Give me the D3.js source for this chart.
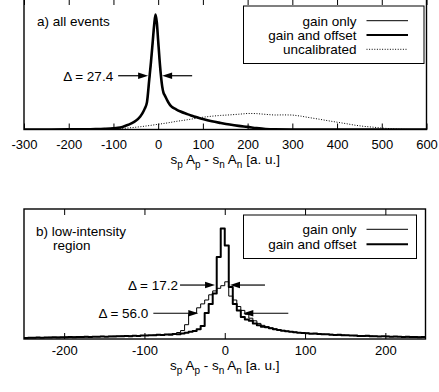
<!DOCTYPE html>
<html>
<head>
<meta charset="utf-8">
<script src="https://cdn.jsdelivr.net/npm/d3@7"></script>
<style>
  body { margin: 0; background: #fff; }
  svg { display: block; font-family: "Liberation Sans", Arial, sans-serif; }
</style>
</head>
<body>
<div id="chart"></div>
<script>
// ---- panel a) all events : sample positions and normalised counts
const aX = [-300, -250, -200, -160, -140, -120, -100, -90, -80, -70, -60, -50, -40, -35, -30, -25,
  -20, -16, -12, -9, -6, -3, 0, 3, 6, 9, 12, 15, 20, 25, 30, 40, 50, 60, 70, 80, 90, 100,
  120, 140, 160, 180, 200, 220, 240, 260, 300, 400, 500, 600];
const aGainOffset = [0, 0, 0.001, 0.002, 0.003, 0.005, 0.009, 0.013, 0.02, 0.032, 0.047, 0.067, 0.1, 0.125, 0.16, 0.21,
  0.38, 0.52, 0.68, 0.8, 0.88, 0.82, 0.68, 0.54, 0.42, 0.33, 0.28, 0.26, 0.225, 0.195, 0.175, 0.155, 0.138, 0.124, 0.112, 0.1, 0.09, 0.08,
  0.063, 0.05, 0.038, 0.028, 0.02, 0.011, 0.004, 0.001, 0, 0, 0, 0];
const aGainOnly = [0, 0, 0.001, 0.002, 0.003, 0.005, 0.009, 0.013, 0.02, 0.032, 0.047, 0.067, 0.1, 0.125, 0.16, 0.21,
  0.37, 0.51, 0.67, 0.79, 0.87, 0.81, 0.67, 0.53, 0.42, 0.33, 0.28, 0.26, 0.225, 0.195, 0.175, 0.155, 0.138, 0.124, 0.112, 0.1, 0.09, 0.08,
  0.063, 0.05, 0.038, 0.028, 0.02, 0.011, 0.004, 0.001, 0, 0, 0, 0];
const aUncalX = [-150, -120, -100, -80, -60, -40, -20, 0, 20, 40, 60, 80, 100, 120, 140, 160, 180, 200, 220, 240,
  260, 280, 300, 320, 340, 360, 380, 400, 420, 440, 460, 480, 500, 520, 540, 560];
const aUncal = [0, 0.002, 0.004, 0.008, 0.014, 0.021, 0.03, 0.04, 0.05, 0.062, 0.072, 0.083, 0.094, 0.102, 0.108, 0.112, 0.117, 0.123, 0.122, 0.116,
  0.111, 0.112, 0.111, 0.102, 0.09, 0.079, 0.067, 0.056, 0.045, 0.033, 0.024, 0.018, 0.011, 0.006, 0.002, 0];
const aTicks = [-300, -200, -100, 0, 100, 200, 300, 400, 500, 600];

// ---- panel b) low-intensity region : histogram, bins of 5 from -250
const bBinStart = -250;
const bBinWidth = 5;
const bGainOffset = [
  0.008, 0.010, 0.009, 0.011, 0.010, 0.012, 0.011, 0.013, 0.012, 0.014,
  0.013, 0.015, 0.014, 0.016, 0.015, 0.017, 0.016, 0.018, 0.017, 0.019,
  0.018, 0.020, 0.019, 0.022, 0.021, 0.023, 0.022, 0.025, 0.024, 0.027,
  0.026, 0.029, 0.028, 0.032, 0.030, 0.035, 0.033, 0.038, 0.036, 0.042,
  0.048, 0.055, 0.062, 0.075, 0.10, 0.20, 0.27, 0.35, 0.63, 0.85,
  0.72, 0.40, 0.27, 0.22, 0.17, 0.15, 0.14, 0.12, 0.105, 0.095,
  0.09, 0.082, 0.075, 0.07, 0.064, 0.06, 0.055, 0.052, 0.048, 0.046,
  0.044, 0.041, 0.043, 0.038, 0.036, 0.037, 0.033, 0.031, 0.032, 0.029,
  0.028, 0.026, 0.027, 0.024, 0.023, 0.025, 0.022, 0.021, 0.020, 0.022,
  0.019, 0.018, 0.020, 0.017, 0.016, 0.018, 0.015, 0.016, 0.014, 0.015];
const bGainOnly = [
  0.009, 0.011, 0.010, 0.012, 0.011, 0.012, 0.013, 0.012, 0.014, 0.013,
  0.015, 0.014, 0.016, 0.015, 0.017, 0.016, 0.018, 0.019, 0.018, 0.020,
  0.019, 0.021, 0.022, 0.021, 0.023, 0.024, 0.023, 0.026, 0.025, 0.027,
  0.028, 0.027, 0.030, 0.032, 0.031, 0.035, 0.038, 0.042, 0.050, 0.065,
  0.11, 0.19, 0.20, 0.24, 0.27, 0.30, 0.34, 0.37, 0.39, 0.41,
  0.44, 0.33, 0.30, 0.25, 0.22, 0.19, 0.16, 0.14, 0.12, 0.105,
  0.095, 0.085, 0.078, 0.07, 0.066, 0.06, 0.057, 0.053, 0.05, 0.047,
  0.045, 0.043, 0.040, 0.041, 0.037, 0.035, 0.036, 0.032, 0.030, 0.031,
  0.028, 0.027, 0.025, 0.026, 0.024, 0.022, 0.023, 0.021, 0.020, 0.019,
  0.021, 0.018, 0.017, 0.019, 0.016, 0.015, 0.017, 0.014, 0.015, 0.013];
const bTicks = [-200, -100, 0, 100, 200];

// ---- FWHM annotations: label, height, left tip, right tip (data units)
const aDeltas = [['\u0394 = 27.4', 0.412, -22.4, 8.9]];
const bDeltas = [['\u0394 = 17.2', 0.415, -12.1, 6.5], ['\u0394 = 56.0', 0.198, -32.9, 23.1]];

const legendA = ['gain only', 'gain and offset', 'uncalibrated'];
const legendB = ['gain only', 'gain and offset'];

const styles = {
  'gain only': { width: 1, dash: null },
  'gain and offset': { width: 2.6, dash: null },
  'uncalibrated': { width: 1, dash: '1,1.6' }
};

const fontSize = 13.5;

const svg = d3.select('#chart')
  .append('svg')
  .attr('width', 439)
  .attr('height', 392);

function buildPanel(p) {
  const x = d3.scaleLinear().domain(p.xDomain).range([p.left, p.right]);
  const y = d3.scaleLinear().domain([0, 1]).range([p.bottom, p.top]);
  const g = svg.append('g');

  const clipId = 'clip-' + p.id;
  g.append('clipPath').attr('id', clipId)
    .append('rect')
    .attr('x', p.left).attr('y', p.top)
    .attr('width', p.right - p.left).attr('height', p.bottom - p.top);

  // ticks, inward on top and bottom
  g.append('g')
    .attr('transform', `translate(0,${p.bottom})`)
    .call(d3.axisBottom(x).tickValues(p.ticks).tickSize(-6).tickPadding(p.labelPad).tickFormat(d => String(d)))
    .call(a => a.select('.domain').remove())
    .call(a => a.selectAll('line').attr('stroke', '#000'))
    .call(a => a.selectAll('text').attr('font-size', 13).attr('font-family', '"Liberation Sans", Arial, sans-serif').attr('fill', '#000'));
  g.append('g')
    .attr('transform', `translate(0,${p.top})`)
    .call(d3.axisTop(x).tickValues(p.ticks).tickSize(-6).tickFormat(''))
    .call(a => a.select('.domain').remove())
    .call(a => a.selectAll('line').attr('stroke', '#000'));

  // curves
  const plot = g.append('g').attr('clip-path', `url(#${clipId})`);
  p.series.forEach(s => {
    const st = styles[s.name];
    const line = d3.line()
      .x((d, i) => x(s.xs[i]))
      .y(d => y(d))
      .curve(s.curve);
    plot.append('path')
      .datum(s.values)
      .attr('d', line)
      .attr('fill', 'none')
      .attr('stroke', '#000')
      .attr('stroke-width', p.widths ? p.widths[s.name] : st.width)
      .attr('stroke-dasharray', st.dash)
      .attr('stroke-linejoin', 'round');
  });

  // frame
  g.append('rect')
    .attr('x', p.left).attr('y', p.top)
    .attr('width', p.right - p.left).attr('height', p.bottom - p.top)
    .attr('fill', 'none').attr('stroke', '#000').attr('stroke-width', 1.4);

  // panel caption
  p.caption.forEach(c => {
    g.append('text')
      .attr('x', c[0]).attr('y', c[1])
      .attr('font-size', fontSize)
      .text(c[2]);
  });

  // legend
  const lg = g.append('g');
  lg.append('rect')
    .attr('x', p.legend.x0).attr('y', p.legend.y0)
    .attr('width', p.legend.x1 - p.legend.x0).attr('height', p.legend.y1 - p.legend.y0)
    .attr('fill', '#fff').attr('stroke', '#000').attr('stroke-width', 1);
  p.legend.items.forEach((name, i) => {
    const ly = p.legend.row0 + i * p.legend.step;
    const st = styles[name];
    lg.append('text')
      .attr('x', 356.5).attr('y', ly + 4.8)
      .attr('text-anchor', 'end')
      .attr('font-size', fontSize)
      .text(name);
    lg.append('line')
      .attr('x1', 366.5).attr('x2', 408)
      .attr('y1', ly).attr('y2', ly)
      .attr('stroke', '#000')
      .attr('stroke-width', name === 'gain and offset' ? 2 : 1)
      .attr('stroke-dasharray', st.dash);
  });

  // FWHM arrows
  p.deltas.forEach((d, i) => {
    const ay = y(d[1]);
    const xl = x(d[2]);
    const xr = x(d[3]);
    const len = p.arrowLen[i];
    const ag = g.append('g');
    ag.append('line').attr('x1', xl - len).attr('x2', xl - 8).attr('y1', ay).attr('y2', ay)
      .attr('stroke', '#000').attr('stroke-width', 1.2);
    ag.append('path').attr('d', `M${xl},${ay} L${xl - 10},${ay - 3.2} L${xl - 10},${ay + 3.2} Z`).attr('fill', '#000');
    ag.append('line').attr('x1', xr + 8).attr('x2', xr + len).attr('y1', ay).attr('y2', ay)
      .attr('stroke', '#000').attr('stroke-width', 1.2);
    ag.append('path').attr('d', `M${xr},${ay} L${xr + 10},${ay - 3.2} L${xr + 10},${ay + 3.2} Z`).attr('fill', '#000');
    ag.append('text')
      .attr('x', xl - len - p.textGap[i]).attr('y', ay + 4.8)
      .attr('text-anchor', 'end')
      .attr('font-size', fontSize)
      .text(d[0]);
  });

  // x axis title with subscripts
  const t = g.append('text')
    .attr('x', (p.left + p.right) / 2)
    .attr('y', p.titleY)
    .attr('text-anchor', 'middle')
    .attr('font-size', fontSize);
  const parts = [['s', 0, null], ['p', 4, 10], [' A', -4, null], ['p', 4, 10],
    [' - s', -4, null], ['n', 4, 10], [' A', -4, null], ['n', 4, 10], [' [a. u.]', -4, null]];
  parts.forEach(part => {
    t.append('tspan')
      .attr('dy', part[1])
      .attr('font-size', part[2])
      .text(part[0]);
  });
}

buildPanel({
  id: 'a',
  xDomain: [-300, 600],
  left: 24, right: 426.5, top: -1, bottom: 129.5,
  ticks: aTicks,
  labelPad: 10.5,
  titleY: 163.5,
  series: [
    { name: 'uncalibrated', xs: aUncalX, values: aUncal, curve: d3.curveLinear },
    { name: 'gain only', xs: aX, values: aGainOnly, curve: d3.curveMonotoneX },
    { name: 'gain and offset', xs: aX, values: aGainOffset, curve: d3.curveMonotoneX }
  ],
  caption: [[37, 26, 'a) all events']],
  legend: { x0: 243.5, x1: 424, y0: 6, y1: 63.5, row0: 20.7, step: 14.3, items: legendA },
  deltas: aDeltas,
  arrowLen: [30],
  textGap: [5]
});

const bX = bGainOffset.map((d, i) => bBinStart + i * bBinWidth).concat([bBinStart + bGainOffset.length * bBinWidth]);

buildPanel({
  id: 'b',
  xDomain: [-250, 250],
  left: 24, right: 425.5, top: 209, bottom: 339,
  ticks: bTicks,
  labelPad: 7,
  titleY: 369.5,
  widths: { 'gain only': 1, 'gain and offset': 2 },
  series: [
    { name: 'gain only', xs: bX, values: bGainOnly.concat([bGainOnly[bGainOnly.length - 1]]), curve: d3.curveStepAfter },
    { name: 'gain and offset', xs: bX, values: bGainOffset.concat([bGainOffset[bGainOffset.length - 1]]), curve: d3.curveStepAfter }
  ],
  caption: [[36, 236, 'b) low-intensity'], [53, 250, 'region']],
  legend: { x0: 243.5, x1: 416.5, y0: 215, y1: 258.5, row0: 229.3, step: 15, items: legendB },
  deltas: bDeltas,
  arrowLen: [35, 45],
  textGap: [2, 5]
});
</script>
</body>
</html>
